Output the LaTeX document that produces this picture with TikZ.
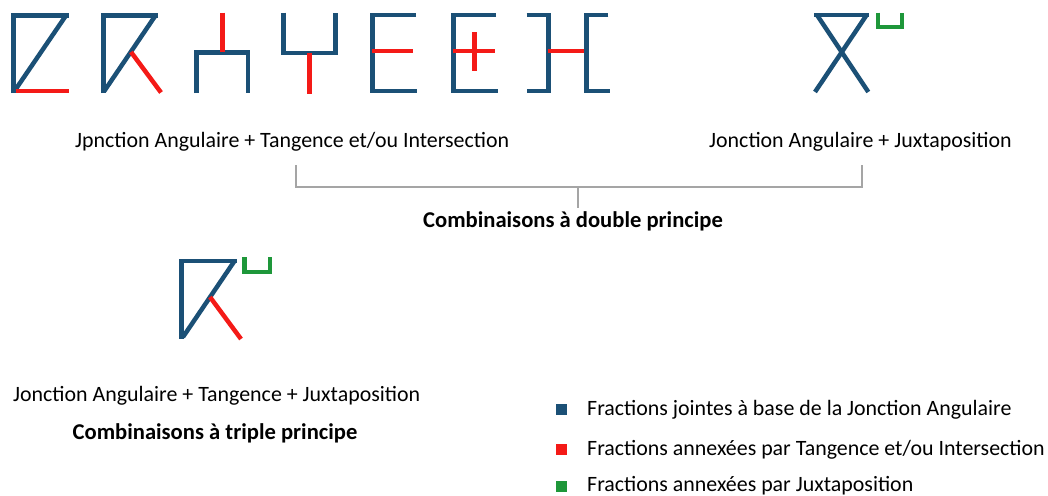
\documentclass[tikz,border=0pt]{standalone}
\usepackage{fontspec}
\setmainfont{Carlito}
\definecolor{jblue}{HTML}{1B5076}
\definecolor{jred}{HTML}{F41A17}
\definecolor{jgreen}{HTML}{1E973A}
\definecolor{jgray}{HTML}{A5A5A5}
\begin{document}
\begin{tikzpicture}[x=1pt,y=-1pt,
 bl/.style={draw=jblue,line width=4.5pt,line join=miter},
 rd/.style={draw=jred,line width=4.5pt},
 gr/.style={draw=jgreen,line width=4.5pt,line join=miter},
 lbl/.style={font=\fontsize{21.9}{24}\selectfont,inner sep=0pt,anchor=base west},
 ttl/.style={font=\fontsize{22.6}{24}\selectfont\bfseries,inner sep=0pt,anchor=base},
 brk/.style={draw=jgray,line width=2pt},
 sq/.style={minimum size=11pt,inner sep=0pt,anchor=center}]
\useasboundingbox (0,0) rectangle (1048,495);
% glyph 1
\draw[bl] (13.5,93) -- (13.5,15.5) -- (68.5,15.5);
\draw[bl] (66,15.5) -- (14.5,91);
\draw[rd] (15.5,91) -- (69,91);
% glyph 2
\draw[bl] (103.3,93) -- (103.3,15.5) -- (158,15.5);
\draw[bl] (155.5,15.5) -- (104.3,91);
\draw[rd] (131,52) -- (161,92.5);
% glyph 3
\draw[bl] (196.7,93) -- (196.7,52.3) -- (248,52.3) -- (248,93);
\draw[rd] (222.3,12.7) -- (222.3,52.3);
% glyph 4
\draw[bl] (283.3,12.7) -- (283.3,53) -- (335.7,53) -- (335.7,12.7);
\draw[rd] (309.3,53) -- (309.3,94);
% glyph 5
\draw[bl] (416,15) -- (372.3,15) -- (372.3,91) -- (417.3,91);
\draw[rd] (372.3,51) -- (412.7,51);
% glyph 6
\draw[bl] (496,15) -- (453.3,15) -- (453.3,91) -- (498,91);
\draw[rd] (453.3,51) -- (495,51);
\draw[rd] (474.7,32.3) -- (474.7,71);
% glyph 7
\draw[bl] (526.7,15) -- (548.3,15) -- (548.3,91) -- (527,91);
\draw[rd] (548.3,51) -- (586.7,51);
\draw[bl] (608.3,15) -- (586.7,15) -- (586.7,91) -- (610,91);
% glyph X
\draw[bl] (814.3,15) -- (869.3,15);
\draw[bl] (817,15) -- (868.3,92);
\draw[bl] (866.6,15) -- (815,92);
\draw[gr] (878,12.7) -- (878,27) -- (902,27) -- (902,12.7);
% glyph triple
\draw[bl] (181.7,338.7) -- (181.7,261) -- (237.3,261);
\draw[bl] (234.5,261) -- (183,337);
\draw[rd] (210,297) -- (241,339);
\draw[gr] (244.5,257.3) -- (244.5,272) -- (270,272) -- (270,257.3);
% labels
\node[lbl] (t1) at (75,147) {Jpnction Angulaire + Tangence et/ou Intersection};
\node[lbl] (t2) at (709,147) {Jonction Angulaire + Juxtaposition};
\node[ttl] (d) at (573,227) {Combinaisons à double principe};
\node[lbl] (t3) at (13,401) {Jonction Angulaire + Tangence + Juxtaposition};
\node[ttl] (tr) at (215,439) {Combinaisons à triple principe};
% bracket
\coordinate (bL) at (296,165);
\coordinate (bR) at (862,165);
\coordinate (bM) at (578,187);
\coordinate (bT) at (578,208);
\draw[brk] (bL) -- (bL |- bM) -- (bR |- bM) -- (bR);
\draw[brk] (bM) -- (bT);
% legend
\node[sq,fill=jblue] (s1) at (561.7,409.7) {};
\node[lbl] (l1) at (587,415) {Fractions jointes à base de la Jonction Angulaire};
\node[sq,fill=jred] (s2) at (561.7,449.7) {};
\node[lbl] (l2) at (587,455) {Fractions annexées par Tangence et/ou Intersection};
\node[sq,fill=jgreen] (s3) at (561.7,486) {};
\node[lbl] (l3) at (587,491.5) {Fractions annexées par Juxtaposition};
\end{tikzpicture}
\end{document}
